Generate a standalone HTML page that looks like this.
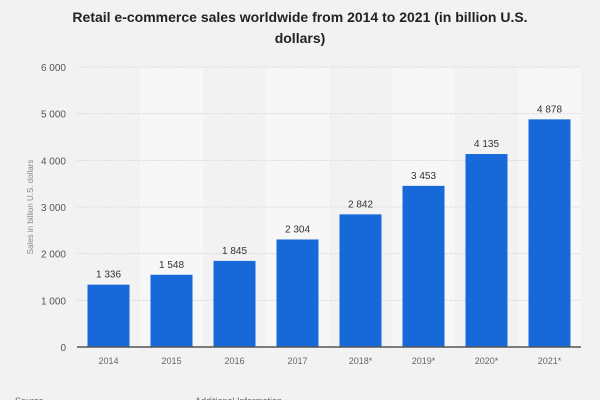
<!DOCTYPE html>
<html><head><meta charset="utf-8"><style>
body{margin:0;background:#f2f2f2;font-family:"Liberation Sans",sans-serif}
</style></head><body>
<svg width="600" height="400" style="display:block">
<rect width="600" height="400" fill="#f2f2f2"/>
<text x="300" y="22" text-anchor="middle" font-size="14" font-weight="bold" fill="#222">Retail e-commerce sales worldwide from 2014 to 2021 (in billion U.S.</text>
<text x="300" y="43" text-anchor="middle" font-size="14" font-weight="bold" fill="#222">dollars)</text>
<g id="bands"></g><g id="grid"></g><g id="bars"></g><g id="labels"></g>
<text transform="translate(33,207) rotate(-90)" text-anchor="middle" font-size="8" fill="#888">Sales in billion U.S. dollars</text>
<text x="15" y="404" font-size="9" fill="#666">Source</text>
<text x="195" y="404" font-size="9" fill="#666">Additional Information</text>
</svg>
<script>
const categories=["2014","2015","2016","2017","2018*","2019*","2020*","2021*"];
const values=[1336,1548,1845,2304,2842,3453,4135,4878];
const valueLabels=["1 336","1 548","1 845","2 304","2 842","3 453","4 135","4 878"];
const yTicks=[0,1000,2000,3000,4000,5000,6000];
const yTickLabels=["0","1 000","2 000","3 000","4 000","5 000","6 000"];
const NS="http://www.w3.org/2000/svg";
const L=77,R=581,T=67,B=347,maxV=6000;
const bw=(R-L)/categories.length;
const y=v=>B-(v/maxV)*(B-T);
const xc=i=>L+bw*(i+0.5);
function mk(tag,attrs,parent,txt){const e=document.createElementNS(NS,tag);for(const k in attrs)e.setAttribute(k,attrs[k]);if(txt!==undefined)e.textContent=txt;document.getElementById(parent).appendChild(e);return e;}
categories.forEach((c,i)=>{if(i%2==1){const b=mk('rect',{x:L+bw*i,y:T,width:bw,height:B-T,fill:'#f7f7f7'},'bands');

}});
yTicks.forEach((t,i)=>{
if(t>0){const g=mk('line',{x1:L,x2:R,y1:y(t),y2:y(t),stroke:'#dcdcdc','stroke-dasharray':'2,1'},'grid');

}
const tl=mk('text',{x:66,y:y(t)+4,'text-anchor':'end','font-size':'10',fill:'#555'},'grid',yTickLabels[i]);

});
categories.forEach((c,i)=>{
const r=mk('rect',{x:xc(i)-21,y:y(values[i]),width:42,height:B-y(values[i]),fill:'#1769d9'},'bars');


const v=mk('text',{x:xc(i),y:y(values[i])-7,'text-anchor':'middle','font-size':'10',fill:'#333'},'labels',valueLabels[i]);


const xl=mk('text',{x:xc(i),y:364,'text-anchor':'middle','font-size':'9',fill:'#666'},'labels',c);

});
const ax=mk('line',{x1:L,x2:R,y1:B,y2:B,stroke:'#555','stroke-width':1.5},'labels');


</script>
</body></html>
